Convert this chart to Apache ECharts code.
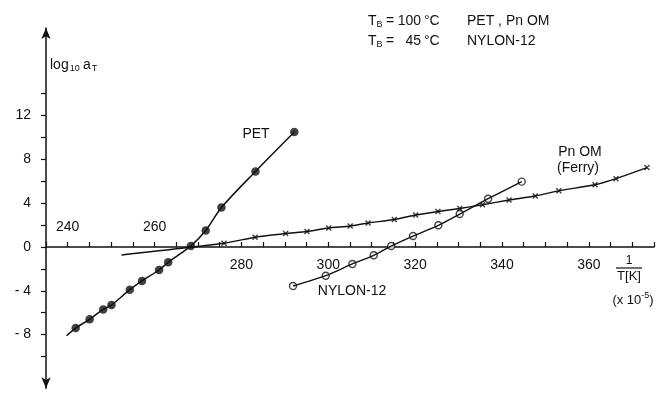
<!DOCTYPE html>
<html>
<head>
<meta charset="utf-8">
<script src="https://cdn.jsdelivr.net/npm/echarts@6/dist/echarts.min.js"></script>
<style>
  html, body { margin: 0; padding: 0; background: #fff; }
  #chart { width: 657px; height: 394px; }
</style>
</head>
<body>
<div id="chart"></div>
<script>
// data (x in 1/T x 10^-5, y = log10 aT)
var petX = [241.8, 245.0, 248.1, 250.0, 254.2, 257.0, 260.9, 263.0, 268.2, 271.6, 275.2, 283.0, 291.9];
var petY = [-7.4, -6.6, -5.7, -5.3, -3.9, -3.1, -2.1, -1.4, 0.1, 1.5, 3.6, 6.9, 10.5];
var petStart = [239.7, -8.1];

var pnomX = [275.8, 282.9, 289.9, 294.8, 299.8, 304.7, 308.8, 314.8, 319.7, 324.8, 329.8, 335.0, 341.1, 347.1, 352.5, 360.8, 365.6, 372.7];
var pnomY = [0.34, 0.89, 1.23, 1.42, 1.74, 1.92, 2.19, 2.51, 2.92, 3.24, 3.52, 3.86, 4.29, 4.66, 5.13, 5.68, 6.24, 7.25];
var pnomStart = [252.3, -0.73];

var nylonX = [291.6, 299.1, 305.2, 310.1, 314.1, 319.1, 324.9, 329.8, 336.3, 344.0];
var nylonY = [-3.56, -2.62, -1.55, -0.76, 0.09, 1.0, 1.98, 3.01, 4.41, 5.97];

var xLabelsBelow = [280, 300, 320, 340, 360];
var xLabelsAbove = [240, 260];
var yLabels = [-8, -4, 0, 4, 8, 12];

(function() {
  var ink = '#111';
  var font = 'Liberation Sans, Arial, sans-serif';

  function pairs(xs, ys) {
    return xs.map(function(x, i) { return [x, ys[i]]; });
  }
  var petPts = pairs(petX, petY);
  var pnomPts = pairs(pnomX, pnomY);
  var nylonPts = pairs(nylonX, nylonY);

  var chart = echarts.init(document.getElementById('chart'), null, { renderer: 'canvas' });

  function xAxisFor(grid, extra) {
    return Object.assign({
      type: 'value', gridIndex: grid, min: 235, max: 375, interval: 5,
      splitLine: { show: false }
    }, extra);
  }
  function hiddenY(grid) {
    return { type: 'value', gridIndex: grid, min: 0, max: 1, show: false };
  }

  // grid 0: data, y -10..14; grid 1: tall y axis line with arrows
  // grid 2 ends on y = 0 (axis line + labels below), grid 3 starts at y = 0 (labels above)
  chart.setOption({
    animation: false,
    textStyle: { fontFamily: font },
    grid: [
      { left: 46, right: 0, top: 93.7, bottom: 37.5 },
      { left: 46, right: 0, top: 28, bottom: 5.7 },
      { left: 46, right: 0, top: 93.7, bottom: 147 },
      { left: 46, right: 0, top: 247, bottom: 37.5 }
    ],
    xAxis: [
      xAxisFor(0, { show: false }),
      xAxisFor(1, { show: false }),
      xAxisFor(2, {
        position: 'bottom',
        axisLine: { onZero: false, lineStyle: { color: ink, width: 1.5 } },
        axisTick: { inside: true, length: 5, lineStyle: { color: ink, width: 1.2 } },
        axisLabel: {
          margin: 11, color: ink, fontSize: 14, fontFamily: font,
          formatter: function(v) { return xLabelsBelow.indexOf(v) >= 0 ? String(v) : ''; }
        }
      }),
      xAxisFor(3, {
        position: 'top',
        axisLine: { show: false, onZero: false },
        axisTick: { show: false },
        axisLabel: {
          margin: 13, color: ink, fontSize: 14, fontFamily: font,
          formatter: function(v) { return xLabelsAbove.indexOf(v) >= 0 ? String(v) : ''; }
        }
      })
    ],
    yAxis: [
      {
        type: 'value', gridIndex: 0, min: -10, max: 14, interval: 2,
        splitLine: { show: false },
        axisLine: { show: false, onZero: false },
        axisTick: { show: true, length: 5, lineStyle: { color: ink, width: 1.2 } },
        axisLabel: {
          margin: 15, color: ink, fontSize: 14, fontFamily: font,
          formatter: function(v) {
            if (yLabels.indexOf(v) < 0) return '';
            return v < 0 ? '- ' + Math.abs(v) : String(v);
          }
        }
      },
      {
        type: 'value', gridIndex: 1, min: -12.9, max: 20,
        splitLine: { show: false },
        axisLine: {
          show: true, onZero: false,
          symbol: ['arrow', 'arrow'], symbolSize: [7, 11],
          lineStyle: { color: ink, width: 1.5 }
        },
        axisTick: { show: false },
        axisLabel: { show: false }
      },
      hiddenY(2),
      hiddenY(3)
    ],
    series: [
      {
        type: 'line', xAxisIndex: 0, yAxisIndex: 0, smooth: 0.3, showSymbol: false,
        lineStyle: { color: ink, width: 1.5 },
        data: [petStart].concat(petPts)
      },
      {
        type: 'scatter', xAxisIndex: 0, yAxisIndex: 0, symbol: 'circle', symbolSize: 8.5,
        itemStyle: { color: ink },
        data: petPts
      },
      {
        type: 'line', xAxisIndex: 0, yAxisIndex: 0, smooth: 0.2, showSymbol: false,
        lineStyle: { color: ink, width: 1.4 },
        data: [pnomStart].concat(pnomPts)
      },
      {
        type: 'scatter', xAxisIndex: 0, yAxisIndex: 0,
        symbol: 'path://M0,0L10,10M10,0L0,10', symbolSize: 5,
        itemStyle: { color: 'none', borderColor: ink, borderWidth: 1.4 },
        data: pnomPts
      },
      {
        type: 'line', xAxisIndex: 0, yAxisIndex: 0, smooth: 0.2, showSymbol: false,
        lineStyle: { color: ink, width: 1.4 },
        data: nylonPts
      },
      {
        type: 'scatter', xAxisIndex: 0, yAxisIndex: 0, symbol: 'circle', symbolSize: 7,
        itemStyle: { color: '#fff', borderColor: ink, borderWidth: 1.4 },
        data: nylonPts
      }
    ],
    graphic: [
      {
        type: 'text', left: 50, top: 58,
        style: {
          text: '{m|log}{s|10} {m|a}{s|T}', fill: ink, fontFamily: font,
          rich: {
            m: { fontSize: 14, fontFamily: font, fill: ink },
            s: { fontSize: 9, fontFamily: font, fill: ink, padding: [8, 0, 0, 1] }
          }
        }
      },
      { type: 'text', x: 256, y: 134, style: { text: 'PET', fill: ink, fontSize: 14, fontFamily: font, align: 'center', verticalAlign: 'middle' } },
      { type: 'text', x: 580, y: 152, style: { text: 'Pn OM', fill: ink, fontSize: 14, fontFamily: font, align: 'center', verticalAlign: 'middle' } },
      { type: 'text', x: 578, y: 168, style: { text: '(Ferry)', fill: ink, fontSize: 14, fontFamily: font, align: 'center', verticalAlign: 'middle' } },
      { type: 'text', x: 352, y: 291, style: { text: 'NYLON-12', fill: ink, fontSize: 14, fontFamily: font, align: 'center', verticalAlign: 'middle' } },
      // T_B rows
      {
        type: 'text', x: 368, y: 21,
        style: { text: 'T{s|B}', fill: ink, fontSize: 14, fontFamily: font, verticalAlign: 'middle',
          rich: { s: { fontSize: 9, fontFamily: font, fill: ink, padding: [8, 0, 0, 0] } } }
      },
      { type: 'text', x: 386, y: 21, style: { text: '=', fill: ink, fontSize: 14, fontFamily: font, verticalAlign: 'middle' } },
      { type: 'text', x: 421, y: 21, style: { text: '100', fill: ink, fontSize: 14, fontFamily: font, align: 'right', verticalAlign: 'middle' } },
      { type: 'text', x: 424, y: 21, style: { text: '°C', fill: ink, fontSize: 14, fontFamily: font, verticalAlign: 'middle' } },
      { type: 'text', x: 467, y: 21, style: { text: 'PET , Pn OM', fill: ink, fontSize: 14, fontFamily: font, verticalAlign: 'middle' } },
      {
        type: 'text', x: 368, y: 41,
        style: { text: 'T{s|B}', fill: ink, fontSize: 14, fontFamily: font, verticalAlign: 'middle',
          rich: { s: { fontSize: 9, fontFamily: font, fill: ink, padding: [8, 0, 0, 0] } } }
      },
      { type: 'text', x: 386, y: 41, style: { text: '=', fill: ink, fontSize: 14, fontFamily: font, verticalAlign: 'middle' } },
      { type: 'text', x: 421, y: 41, style: { text: '45', fill: ink, fontSize: 14, fontFamily: font, align: 'right', verticalAlign: 'middle' } },
      { type: 'text', x: 424, y: 41, style: { text: '°C', fill: ink, fontSize: 14, fontFamily: font, verticalAlign: 'middle' } },
      { type: 'text', x: 467, y: 41, style: { text: 'NYLON-12', fill: ink, fontSize: 14, fontFamily: font, verticalAlign: 'middle' } },
      // 1 / T[K]
      { type: 'text', x: 629, y: 261, style: { text: '1', fill: ink, fontSize: 12, fontFamily: font, align: 'center', verticalAlign: 'middle' } },
      { type: 'line', shape: { x1: 616, y1: 268, x2: 642, y2: 268 }, style: { stroke: ink, lineWidth: 1.2 } },
      { type: 'text', x: 629, y: 276, style: { text: 'T[K]', fill: ink, fontSize: 13, fontFamily: font, align: 'center', verticalAlign: 'middle' } },
      {
        type: 'text', x: 633, y: 300,
        style: { text: '(x 10{s|-5})', fill: ink, fontSize: 13, fontFamily: font, align: 'center', verticalAlign: 'middle',
          rich: { s: { fontSize: 9, fontFamily: font, fill: ink, padding: [0, 0, 8, 0] } } }
      }
    ]
  });
  window.addEventListener('resize', function() { chart.resize(); });
})();
</script>
</body>
</html>
